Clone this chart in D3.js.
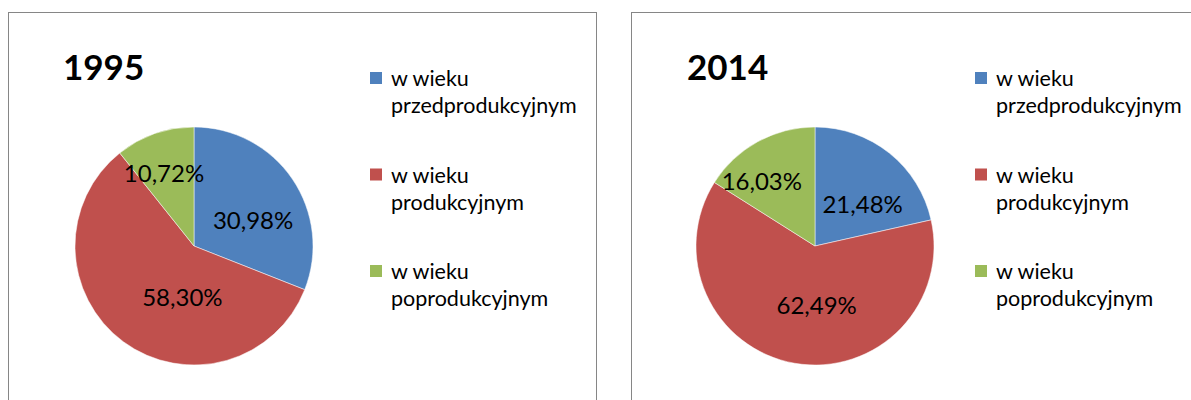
<!DOCTYPE html>
<html>
<head>
<meta charset="utf-8">
<script src="https://cdn.jsdelivr.net/npm/d3@7"></script>
<style>
  body { margin: 0; background: #fff; }
  svg text { font-family: Lato, "Noto Sans", sans-serif; fill: #000; }
</style>
</head>
<body>
<div id="chart-area"></div>
<script>
// Data
var years = ["1995", "2014"];
var categoryLines = [
  ["w wieku", "przedprodukcyjnym"],
  ["w wieku", "produkcyjnym"],
  ["w wieku", "poprodukcyjnym"]
];
var values1995 = [30.98, 58.30, 10.72];
var values2014 = [21.48, 62.49, 16.03];
var colors = ["#4F81BD", "#C0504D", "#9BBB59"];

var seriesByYear = [values1995, values2014];

var width = 1191,
    height = 400;

var svg = d3.select("#chart-area").append("svg")
  .attr("width", width)
  .attr("height", height);

// panel layout
var panels = [
  {x: 8.5, w: 588, cx: 194, title: 63, legend: 370},
  {x: 631.5, w: 600, cx: 815, title: 687, legend: 975}
];

// Excel "best fit" labels sit a bit off the centroid: small shifts per slice
var labelNudge = [
  [[4, 12], [28, -2], [-8, -10]],
  [[6, 11], [13, -6], [-21, -6]]
];

var radius = 119,
    cy = 246;

var pie = d3.pie().sort(null).value(function(d) { return d; });
var arc = d3.arc().innerRadius(0).outerRadius(radius);
var labelArc = d3.arc().innerRadius(radius * 0.56).outerRadius(radius * 0.56);

var color = d3.scaleOrdinal().domain([0, 1, 2]).range(colors);

var fmt = function(v) { return d3.format(".2f")(v).replace(".", ",") + "%"; };

years.forEach(function(year, i) {
  var p = panels[i];
  var g = svg.append("g");

  g.append("rect")
    .attr("x", p.x)
    .attr("y", 12.5)
    .attr("width", p.w)
    .attr("height", 420)
    .attr("fill", "#fff")
    .attr("stroke", "#868686")
    .attr("stroke-width", 1);

  g.append("text")
    .attr("x", p.title)
    .attr("y", 80)
    .attr("font-size", "35px")
    .attr("font-weight", "bold")
    .text(year);

  var pieG = g.append("g")
    .attr("transform", "translate(" + p.cx + "," + cy + ")");

  var slices = pie(seriesByYear[i]);

  pieG.selectAll("path")
    .data(slices)
    .enter()
    .append("path")
    .attr("d", arc)
    .attr("fill", function(d) { return color(d.index); })
    .attr("stroke", "#fff")
    .attr("stroke-width", 0.5);

  pieG.selectAll("text.lbl")
    .data(slices)
    .enter()
    .append("text")
    .attr("class", "lbl")
    .attr("transform", function(d) {
      var c = labelArc.centroid(d),
          n = labelNudge[i][d.index];
      return "translate(" + (c[0] + n[0]) + "," + (c[1] + n[1]) + ")";
    })
    .attr("text-anchor", "middle")
    .attr("dy", "0.35em")
    .attr("font-size", "24px")
    .text(function(d) { return fmt(d.data); });

  // legend
  var leg = g.selectAll("g.leg")
    .data(categoryLines)
    .enter()
    .append("g")
    .attr("class", "leg")
    .attr("transform", function(d, k) { return "translate(" + p.legend + "," + (72 + k * 96.5) + ")"; });

  leg.append("rect")
    .attr("width", 12)
    .attr("height", 12)
    .attr("fill", function(d, k) { return color(k); });

  leg.each(function(d) {
    var t = d3.select(this);
    d.forEach(function(line, j) {
      t.append("text")
        .attr("x", 21)
        .attr("y", 14 + j * 27)
        .attr("font-size", "21.5px")
        .text(line);
    });
  });
});
</script>
</body>
</html>
